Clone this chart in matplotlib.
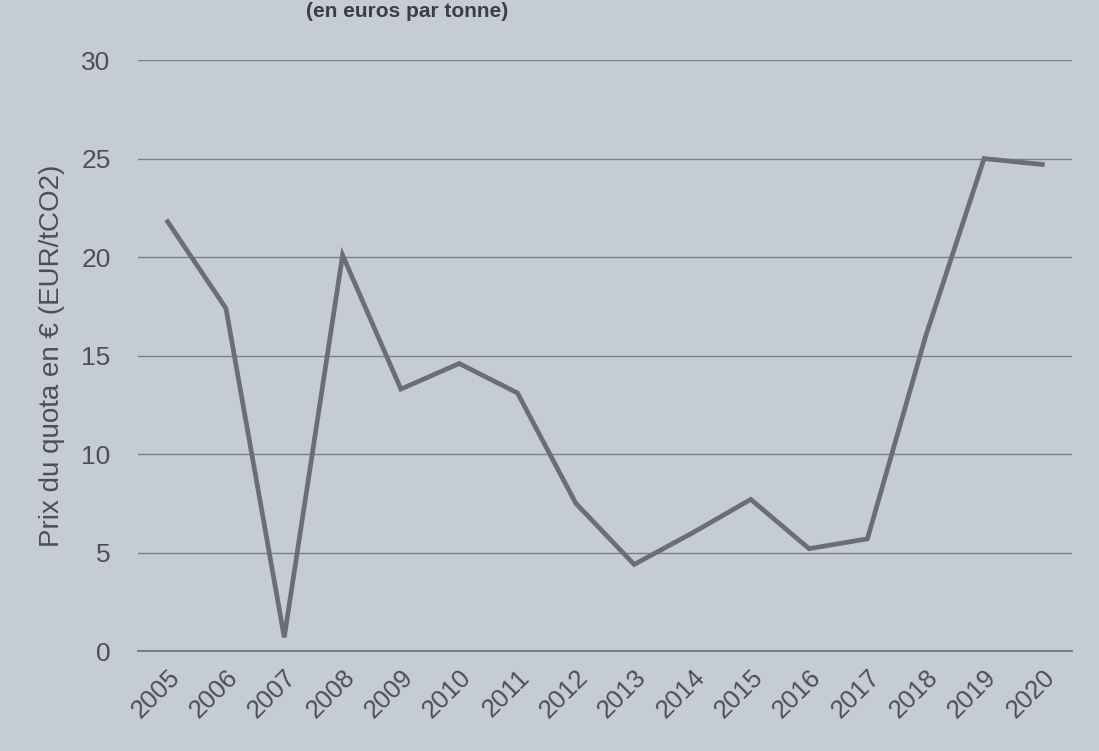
import numpy as np
import matplotlib.pyplot as plt

plt.rcParams['font.family'] = ['Liberation Sans', 'DejaVu Sans']

# prix annuel moyen du quota (EUR/tCO2)
years = ['2005', '2006', '2007', '2008', '2009', '2010', '2011', '2012',
         '2013', '2014', '2015', '2016', '2017', '2018', '2019', '2020']
prices = [21.8, 17.4, 0.7, 20.1, 13.3, 14.6, 13.1, 7.5,
          4.4, 6.0, 7.7, 5.2, 5.7, 16.0, 25.0, 24.7]
yticks = [0, 5, 10, 15, 20, 25, 30]

bg = '#c6cdd2'
ink = '#4b5055'

fig = plt.figure(figsize=(10.99, 7.51), dpi=100, facecolor=bg)
ax = fig.add_axes([0.126, 0.133, 0.849, 0.787], facecolor=bg)

x = np.arange(len(years))
ax.plot(x, prices, color='#6a6f74', lw=3.4, solid_joinstyle='miter')

ax.set_xlim(-0.5, len(years) - 0.5)
ax.set_ylim(0, 30)
ax.set_yticks(yticks)
ax.set_yticklabels([str(v) for v in yticks], fontsize=19, color=ink)
ax.set_xticks(x)
ax.set_xticklabels(years, fontsize=18.5, color=ink, rotation=45,
                   ha='right', rotation_mode='anchor')
ax.grid(axis='y', color='#7a8186', lw=1.0)
ax.set_axisbelow(True)
ax.tick_params(length=0, pad=20)
ax.tick_params(axis='x', pad=10)
for s in ['top', 'right', 'left']:
    ax.spines[s].set_visible(False)
ax.spines['bottom'].set_color('#6f767b')
ax.spines['bottom'].set_linewidth(1.3)

ax.set_ylabel('Prix du quota en € (EUR/tCO2)', fontsize=20, color=ink,
              labelpad=12)

# titre (coupé en haut de la photo d'origine)
fig.text(0.278, 0.997, '(en euros par tonne)', fontsize=15,
         fontweight='bold', color='#3a3f44', ha='left', va='top')

fig.savefig('out.png', dpi=100, facecolor=bg)
